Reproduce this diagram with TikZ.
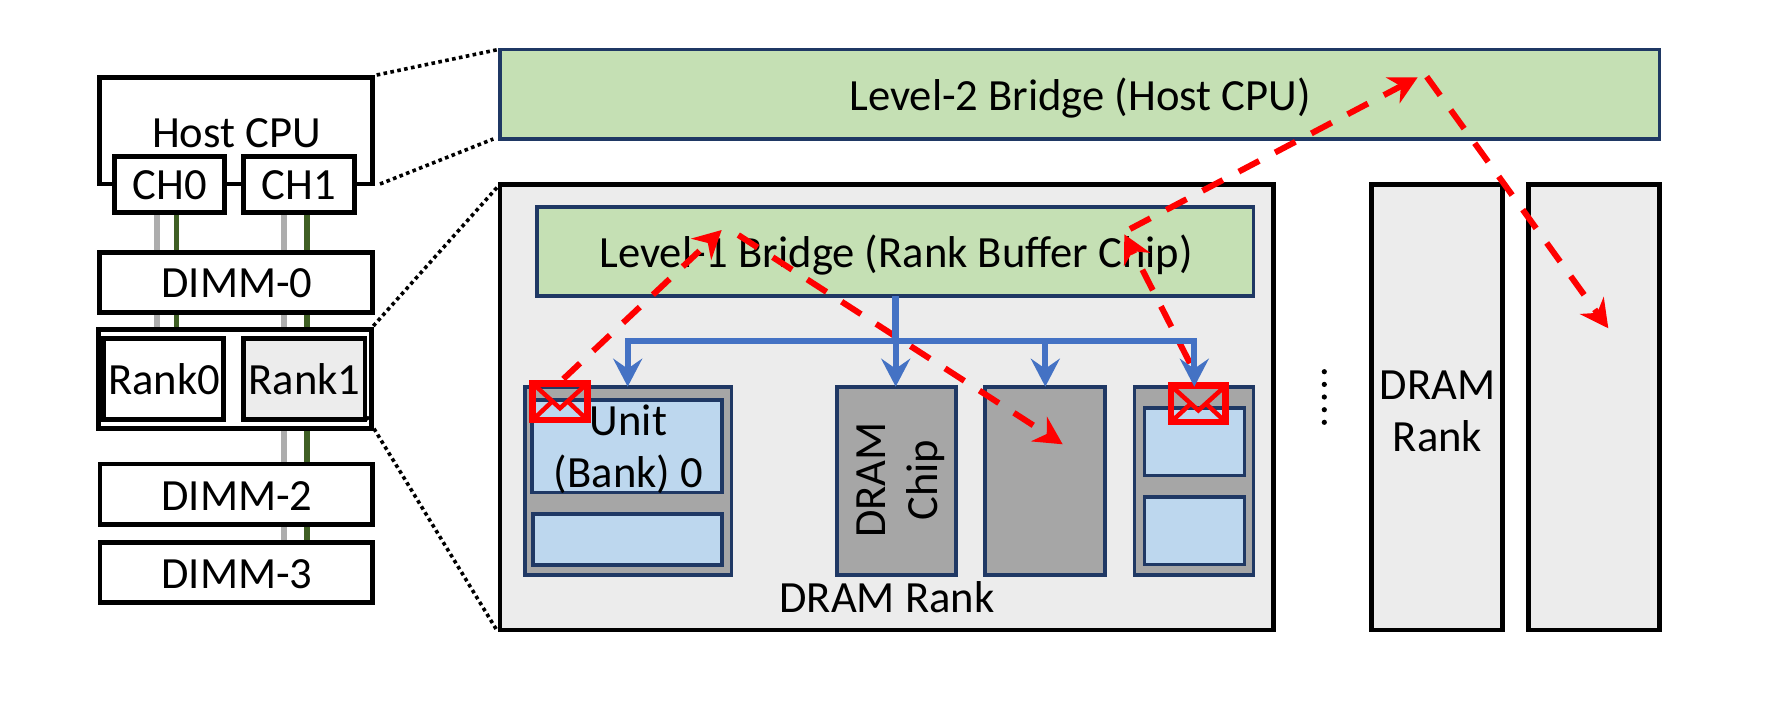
\documentclass[tikz,border=0pt]{standalone}
\usepackage{fontspec}
\setmainfont{Carlito}
\usetikzlibrary{arrows.meta,calc,backgrounds}
\newcommand{\pxbox}[7][]{%
  \pgfmathsetmacro{\bw}{#5-#3}\pgfmathsetmacro{\bh}{#6-#4}%
  \pgfmathsetmacro{\bx}{(#5+#3)/2}\pgfmathsetmacro{\by}{(#6+#4)/2}%
  \node[#2,minimum width=\bw pt,minimum height=\bh pt,#1] (#7) at (\bx,\by) {};}
\tikzset{
  x=1pt,y=-1pt,
  every node/.style={inner sep=0pt,outer sep=0pt,text=black,font=\fontsize{44.6}{52.5}\selectfont,align=center},
  hw/.style={draw=black,line width=4.8pt,fill=white},
  rankbox/.style={draw=black,line width=4.8pt,fill=rankgrey},
  bridge/.style={draw=navyline,line width=3.6pt,fill=bridgegreen},
  chip/.style={draw=navyline,line width=3.6pt,fill=chipgrey},
  bank/.style={draw=navyline,line width=3.6pt,fill=bankblue},
  mail/.style={draw=mailred,line width=6.8pt,fill=none},
  mailfold/.style={draw=mailred,line width=4.5pt},
  zoomline/.style={black,line width=3.6pt,dash pattern=on 3.6pt off 3.4pt},
  wiregrey/.style={draw=wirelight,line width=6pt},
  wiregreen/.style={draw=wiredark,line width=5.5pt},
  hop/.style={draw=mailred,line width=6pt,dash pattern=on 23pt off 18pt,
    -{Stealth[length=28pt,width=29pt,inset=9pt]}},
  bus/.style={draw=busblue,line width=6pt},
  busdrop/.style={bus,-{Stealth[length=28pt,width=29pt,inset=10pt]}},
}
\definecolor{rankgrey}{HTML}{ECECEC}
\definecolor{navyline}{HTML}{1F3864}
\definecolor{bridgegreen}{HTML}{C5E0B4}
\definecolor{chipgrey}{HTML}{A6A6A6}
\definecolor{bankblue}{HTML}{BDD7EE}
\definecolor{mailred}{HTML}{FF0000}
\definecolor{wirelight}{HTML}{ADADAD}
\definecolor{wiredark}{HTML}{3F5F24}
\definecolor{busblue}{HTML}{4472C4}
\begin{document}
\begin{tikzpicture}
\useasboundingbox (0,0) rectangle (1767,702);
% wire positions of the two channels
\coordinate (g0) at (157.3,0);
\coordinate (d0) at (176.3,0);
\coordinate (g1) at (284.3,0);
\coordinate (d1) at (307,0);
% host side
\pxbox{hw}{99.3}{77.3}{372.7}{184}{host}
\pxbox{hw}{114.5}{156.3}{224.7}{212.7}{ch0}
\pxbox{hw}{243.3}{156.3}{354.7}{212.7}{ch1}
\pxbox{hw}{99.3}{252.3}{372.7}{312.7}{dimm0}
\pxbox{hw}{98.3}{329.3}{371.7}{428.3}{dimm1}
\pxbox{hw}{104}{338.3}{223.7}{419.3}{rank0}
\draw[line width=4.8pt] ($(rank0.north west)+(-2.5,-2.4)$) -- ($(rank0.south west)+(-2.5,2.4)$);
\pxbox{rankbox}{243.3}{338.3}{365}{419.3}{rank1}
\pxbox{hw}{100}{464}{372.7}{524.7}{dimm2}
\pxbox{hw}{100}{542.3}{372.7}{602.3}{dimm3}
\node at (236.5,133) {Host CPU};
\node at (170,185.5) {CH0};
\node at (299,185.5) {CH1};
\node at (237,283) {DIMM-0};
\node at (164,379) {Rank0};
\node at (304.5,379) {Rank1};
\node at (237,496) {DIMM-2};
\node at (237,574) {DIMM-3};
% memory channels
\begin{scope}[on background layer]
\draw[wiregrey] (ch0.south -| g0) -- (dimm0.north -| g0);
\draw[wiregreen] (ch0.south -| d0) -- (dimm0.north -| d0);
\draw[wiregrey] (ch1.south -| g1) -- (dimm0.north -| g1);
\draw[wiregreen] (ch1.south -| d1) -- (dimm0.north -| d1);
\draw[wiregrey] (dimm0.south -| g0) -- (dimm1.north -| g0);
\draw[wiregreen] (dimm0.south -| d0) -- (dimm1.north -| d0);
\draw[wiregrey] (dimm0.south -| g1) -- (dimm1.north -| g1);
\draw[wiregreen] (dimm0.south -| d1) -- (dimm1.north -| d1);
\draw[wiregrey] (dimm1.south -| g1) -- (dimm2.north -| g1);
\draw[wiregreen] (dimm1.south -| d1) -- (dimm2.north -| d1);
\draw[wiregrey] (dimm2.south -| g1) -- (dimm3.north -| g1);
\draw[wiregreen] (dimm2.south -| d1) -- (dimm3.north -| d1);
\end{scope}
% expanded view
\pxbox{bridge}{500}{49.5}{1659.3}{138.7}{l2}
\node at (1080,98.5) {Level-2 Bridge (Host CPU)};
\pxbox{rankbox}{500}{184.3}{1273.3}{630}{rankmain}
\node at (887,597) {DRAM Rank};
\pxbox{bridge}{536.7}{206.7}{1253.3}{296}{l1}
\node at (896,255.5) {Level-1 Bridge (Rank Buffer Chip)};
\pxbox{rankbox}{1371.7}{184.3}{1502.7}{630}{rankb}
\node at (1437.5,411.5) {DRAM\\Rank};
\pxbox{rankbox}{1528.3}{184.3}{1659.3}{630}{rankc}
% chips and banks
\pxbox{chip}{524.7}{386.7}{731.3}{575}{chipa}
\pxbox{bank}{531.7}{400}{722}{492.3}{banka}
\node at (628.5,449) {Unit\\(Bank) 0};
\pxbox{bank}{532.7}{513.7}{722}{565}{bankb}
\pxbox{chip}{836.7}{386.7}{956}{575}{chipb}
\node[rotate=90] at (901,480) {DRAM\\Chip};
\pxbox{chip}{985}{386.7}{1105}{575}{chipc}
\pxbox{chip}{1134.3}{386.7}{1253.3}{575}{chipd}
\pxbox{bank}{1144.3}{407.7}{1244.3}{475.3}{bankc}
\pxbox{bank}{1144.3}{496.7}{1244.3}{564.3}{bankd}
% mail markers
\pxbox{mail}{532.6}{383.3}{587.4}{420}{mailsrc}
\draw[mailfold] (mailsrc.north west) -- ($(mailsrc.north)!0.68!(mailsrc.south)$) -- (mailsrc.north east);
\draw[mailfold] (mailsrc.south west) -- ($(mailsrc.north west)!0.72!(mailsrc.north)+(0,18)$);
\draw[mailfold] (mailsrc.south east) -- ($(mailsrc.north east)!0.72!(mailsrc.north)+(0,18)$);
\pxbox{mail}{1171}{385.7}{1225.7}{422}{maildst}
\draw[mailfold] (maildst.north west) -- ($(maildst.north)!0.68!(maildst.south)$) -- (maildst.north east);
\draw[mailfold] (maildst.south west) -- ($(maildst.north west)!0.72!(maildst.north)+(0,18)$);
\draw[mailfold] (maildst.south east) -- ($(maildst.north east)!0.72!(maildst.north)+(0,18)$);
% route of the message
\coordinate (hopa) at (721.7,230);
\coordinate (hopb) at (738.3,235);
\coordinate (hopc) at (1062.7,444.3);
\coordinate (hopd) at (1124.3,234.3);
\coordinate (hope) at (1130,229);
\coordinate (hopf) at (1417.7,77.3);
\coordinate (hopg) at (1426.7,76.7);
\coordinate (hoph) at (1608.3,328.3);
\coordinate (srcout) at (563.3,379);
\coordinate (dstout) at (1190,363.3);
\draw[hop] (srcout) -- (hopa);
\draw[hop] (hopb) -- (hopc);
\draw[hop] (dstout) -- (hopd);
\draw[hop] (hope) -- (hopf);
\draw[hop] (hopg) -- (hoph);
% rank bus
\coordinate (busl) at (627.7,341.3);
\coordinate (busm) at (895.7,341.3);
\coordinate (busn) at (1045.3,341.3);
\coordinate (busr) at (1194.3,341.3);
\draw[bus,line width=6.5pt] (l1.south -| busm) -- (busm);
\draw[bus,line cap=rect] (busl) -- (busr);
\draw[busdrop] (busl) -- (chipa.north -| busl);
\draw[busdrop] (busm) -- (chipb.north -| busm);
\draw[busdrop] (busn) -- (chipc.north -| busn);
\draw[busdrop] (busr) -- (chipd.north -| busr);
% zoom guides
\coordinate (za) at (376.7,75);
\coordinate (zb) at (498.3,49.5);
\coordinate (zc) at (380,184);
\coordinate (zd) at (493.3,139);
\coordinate (ze) at (373.3,326);
\coordinate (zf) at (497.7,186.7);
\coordinate (zg) at (366.7,416.7);
\coordinate (zh) at (496.7,630);
\draw[zoomline] (za) -- (zb);
\draw[zoomline] (zc) -- (zd);
\draw[zoomline] (ze) -- (zf);
\draw[zoomline] (zg) -- (zh);
% more ranks follow
\foreach \dy in {371.7,384.4,397,409.7,422.3}
  \fill[black] (1324.3,\dy) circle (2.6pt);
\end{tikzpicture}
\end{document}
